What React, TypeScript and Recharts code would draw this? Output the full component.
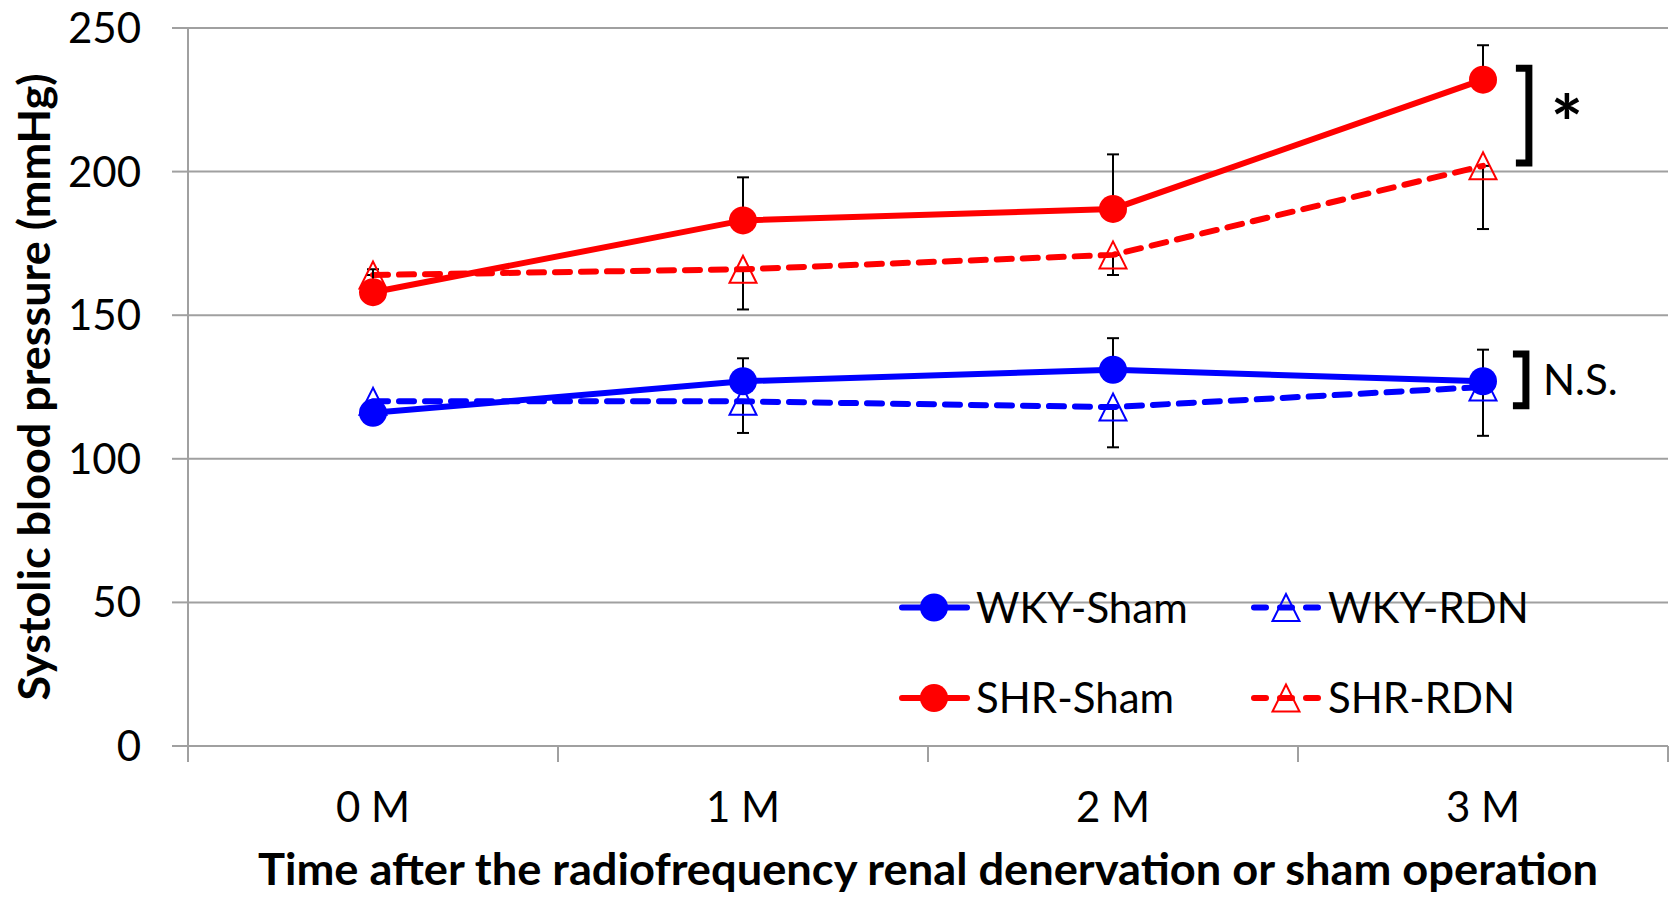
import { CartesianGrid, ErrorBar, Legend, Line, LineChart, ReferenceLine, XAxis, YAxis } from "recharts"

// values (mmHg)
const MONTHS = ['0 M', '1 M', '2 M', '3 M']
const X_POS = [0.5, 1.5, 2.5, 3.5]
const Y_TICKS = [0, 50, 100, 150, 200, 250]
const BOUNDARIES = [0, 1, 2, 3, 4]

const WKY_SHAM = [116, 127, 131, 127]
const WKY_SHAM_ERR = [3, 8, 11, 11]
const WKY_RDN = [120, 120, 118, 125]
const WKY_RDN_ERR = [3, 11, 14, 17]
const SHR_SHAM = [158, 183, 187, 232]
const SHR_SHAM_ERR = [8, 15, 19, 12]
const SHR_RDN = [164, 166, 171, 202]
const SHR_RDN_ERR = [4, 14, 7, 22]

// significance brackets at 3 M
const BRACKETS = [
    { x: 3.624, top: 236, bottom: 203, text: '*' },
    { x: 3.616, top: 136.5, bottom: 118.5, text: 'N.S.' },
]

const BLUE = '#0000ff'
const RED = '#ff0000'
const GRID = '#a0a0a0'
const FONT = 'Lato'

// Sham only shows upper error, RDN only lower
const data = MONTHS.map((m, i) => ({
    x: X_POS[i],
    label: m,
    wkySham: WKY_SHAM[i],
    wkyShamErr: [0, WKY_SHAM_ERR[i]],
    wkyRdn: WKY_RDN[i],
    wkyRdnErr: [WKY_RDN_ERR[i], 0],
    shrSham: SHR_SHAM[i],
    shrShamErr: [0, SHR_SHAM_ERR[i]],
    shrRdn: SHR_RDN[i],
    shrRdnErr: [SHR_RDN_ERR[i], 0],
}))

const LEGEND_ITEMS = [
    { name: 'WKY-Sham', color: BLUE, dashed: false },
    { name: 'WKY-RDN', color: BLUE, dashed: true },
    { name: 'SHR-Sham', color: RED, dashed: false },
    { name: 'SHR-RDN', color: RED, dashed: true },
]

const tri = (cx: number, cy: number, s: number) =>
    `${cx},${cy - s / 2} ${cx - s / 2},${cy + s / 2} ${cx + s / 2},${cy + s / 2}`

function TriangleDot(props: any) {
    const { cx, cy, stroke, index } = props
    if (cx == null || cy == null) return <g key={index} />
    return <polygon key={index} points={tri(cx, cy, 27)} fill="none" stroke={stroke} strokeWidth={2} />
}

function LegendBox() {
    return (
        <svg width={720} height={180} style={{ overflow: 'visible', display: 'block' }}>
            {LEGEND_ITEMS.map((it, i) => {
                const x0 = i % 2 === 0 ? 19 : 371
                const cy = i < 2 ? 47.5 : 138
                return (
                    <g key={it.name}>
                        <line x1={x0 + 3} x2={x0 + 68} y1={cy} y2={cy} stroke={it.color} strokeWidth={6}
                            strokeLinecap="round" strokeDasharray={it.dashed ? '12 14' : undefined} />
                        {it.dashed
                            ? <polygon points={tri(x0 + 35, cy, 27)} fill="none" stroke={it.color} strokeWidth={2} />
                            : <circle cx={x0 + 35} cy={cy} r={14} fill={it.color} />}
                        <text x={x0 + 77} y={cy + 15} fontFamily={FONT} fontSize={42} fill="#000">{it.name}</text>
                    </g>
                )
            })}
        </svg>
    )
}

const bracketShape = (text: string) => (p: any) => {
    const { x1, y1, y2 } = p
    const star = text === '*'
    return (
        <g>
            <path d={`M${x1 - 13},${y1} H${x1} V${y2} H${x1 - 13}`} fill="none" stroke="#000" strokeWidth={7} />
            <text x={star ? x1 + 38 : x1 + 17} y={star ? (y1 + y2) / 2 + 35 : (y1 + y2) / 2 + 15}
                textAnchor={star ? 'middle' : 'start'} fontFamily={FONT}
                fontWeight={star ? 700 : 400} fontSize={star ? 76 : 42} fill="#000">{text}</text>
        </g>
    )
}

export default function App() {
    return (
        <div style={{ position: 'absolute', left: 0, top: 0, background: '#fff' }}>
            <LineChart width={1673} height={899} data={data} margin={{ top: 28, right: 5, left: 0, bottom: 0 }}>
                <CartesianGrid vertical={false} stroke={GRID} strokeWidth={2} />
                <XAxis
                    dataKey="x"
                    type="number"
                    domain={[0, 4]}
                    ticks={X_POS}
                    tickFormatter={(v) => MONTHS[X_POS.indexOf(v)] ?? ''}
                    tickLine={false}
                    tickSize={0}
                    tickMargin={46}
                    axisLine={{ stroke: GRID, strokeWidth: 2 }}
                    tick={{ fontFamily: FONT, fontSize: 42, fill: '#000' }}
                    height={153}
                    label={{
                        content: (p: any) => {
                            const vb = p.viewBox
                            return (
                                <text x={vb.x + vb.width / 2} y={vb.y + 139} textAnchor="middle" fontFamily={FONT}
                                    fontWeight={700} fontSize={44} textLength={1340} lengthAdjust="spacingAndGlyphs">
                                    Time after the radiofrequency renal denervation or sham operation
                                </text>
                            )
                        },
                    }}
                />
                <YAxis
                    domain={[0, 250]}
                    ticks={Y_TICKS}
                    allowDataOverflow
                    width={188}
                    tickSize={16}
                    tickMargin={31}
                    tickLine={{ stroke: GRID, strokeWidth: 2 }}
                    axisLine={{ stroke: GRID, strokeWidth: 2 }}
                    tick={{ fontFamily: FONT, fontSize: 42, fill: '#000' }}
                    label={{
                        content: (p: any) => {
                            const vb = p.viewBox
                            const cy = vb.y + vb.height / 2
                            return (
                                <text x={50} y={cy} transform={`rotate(-90, 50, ${cy})`} textAnchor="middle"
                                    fontFamily={FONT} fontWeight={700} fontSize={44} textLength={627}
                                    lengthAdjust="spacingAndGlyphs">
                                    Systolic blood pressure (mmHg)
                                </text>
                            )
                        },
                    }}
                />
                {BOUNDARIES.map((b) => (
                    <ReferenceLine key={b} segment={[{ x: b, y: 0 }, { x: b, y: -5.6 }]} stroke={GRID}
                        strokeWidth={2} ifOverflow="visible" />
                ))}
                <Line dataKey="wkyRdn" stroke={BLUE} strokeWidth={6} strokeDasharray="15 11" strokeLinecap="round"
                    dot={(p: any) => <TriangleDot {...p} stroke={BLUE} />} activeDot={false} isAnimationActive={false}>
                    <ErrorBar dataKey="wkyRdnErr" direction="y" width={6} stroke="#000" strokeWidth={2} />
                </Line>
                <Line dataKey="shrRdn" stroke={RED} strokeWidth={6} strokeDasharray="15 11" strokeLinecap="round"
                    dot={(p: any) => <TriangleDot {...p} stroke={RED} />} activeDot={false} isAnimationActive={false}>
                    <ErrorBar dataKey="shrRdnErr" direction="y" width={6} stroke="#000" strokeWidth={2} />
                </Line>
                <Line dataKey="wkySham" stroke={BLUE} strokeWidth={6}
                    dot={{ r: 14, fill: BLUE, stroke: BLUE, strokeWidth: 0 }} activeDot={false} isAnimationActive={false}>
                    <ErrorBar dataKey="wkyShamErr" direction="y" width={6} stroke="#000" strokeWidth={2} />
                </Line>
                <Line dataKey="shrSham" stroke={RED} strokeWidth={6}
                    dot={{ r: 14, fill: RED, stroke: RED, strokeWidth: 0 }} activeDot={false} isAnimationActive={false}>
                    <ErrorBar dataKey="shrShamErr" direction="y" width={6} stroke="#000" strokeWidth={2} />
                </Line>
                {BRACKETS.map((b) => (
                    <ReferenceLine key={b.text} segment={[{ x: b.x, y: b.top }, { x: b.x, y: b.bottom }]}
                        ifOverflow="visible" shape={bracketShape(b.text)} />
                ))}
                <Legend layout="horizontal" verticalAlign="middle" align="center"
                    wrapperStyle={{ left: 880, top: 560, width: 720, height: 180 }} content={() => <LegendBox />} />
            </LineChart>
        </div>
    )
}
